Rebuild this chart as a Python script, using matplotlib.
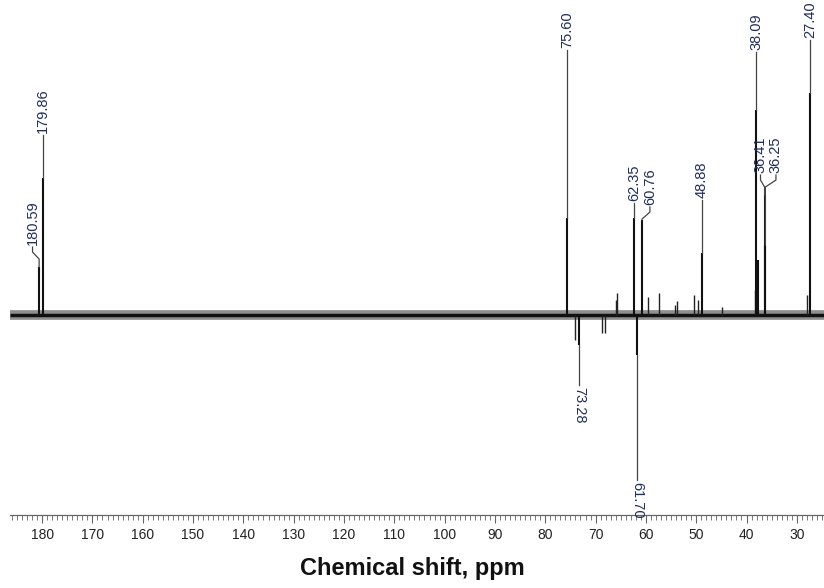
import numpy as np
import matplotlib
matplotlib.use("Agg")
import matplotlib.pyplot as plt
from matplotlib.ticker import MultipleLocator

plt.rcParams['font.family'] = ['Liberation Sans', 'DejaVu Sans']

# peak list: chemical shift (ppm) and intensity (arbitrary units, baseline = 0)
peak_ppm = [180.59, 179.86, 75.60, 73.28, 62.35, 61.70, 60.76, 48.88,
            38.09, 37.75, 36.41, 36.25, 27.40]
peak_int = [48, 137, 97, -30, 97, -40, 95, 62,
            205, 55, 120, 70, 222]

# small unlabelled signals
minor_ppm = [74.10, 68.70, 68.10, 66.00, 65.75, 59.60, 57.30, 54.20, 53.80,
             50.45, 49.60, 44.90, 38.40, 28.00]
minor_int = [-25, -18, -18, 15, 22, 18, 22, 10, 14,
             20, 15, 8, 25, 20]

# peak labels: text, peak ppm, text ppm, text edge, peak tip
label_text = ['180.59', '179.86', '75.60', '62.35', '60.76', '48.88',
              '38.09', '36.41', '36.25', '27.40', '73.28', '61.70']
label_peak = [180.59, 179.86, 75.60, 62.35, 60.76, 48.88,
              38.09, 36.41, 36.25, 27.40, 73.28, 61.70]
label_x = [181.9, 179.86, 75.60, 62.35, 59.20, 48.88,
           38.09, 37.22, 34.15, 27.40, 73.28, 61.70]
label_y = [68, 180, 265, 112, 108, 115, 263, 140, 140, 275, -70, -165]
label_tip = [48, 137, 97, 97, 95, 62, 205, 120, 70, 222, -30, -40]

xticks = list(range(180, 20, -10))

fig = plt.figure(figsize=(8.24, 5.88), dpi=100)
ax = fig.add_axes([0.012, 0.124, 0.988, 0.876])

# baseline noise band
ax.plot([186.4, 24.6], [0, 0], color='#333333', lw=7, alpha=0.55, solid_capstyle='butt')
ax.plot([186.4, 24.6], [0, 0], color='#111111', lw=2.5, solid_capstyle='butt')

ax.vlines(minor_ppm, 0, minor_int, color='#222222', lw=1.0)
ax.vlines(peak_ppm, 0, peak_int, color='#111111', lw=1.5)

label_color = '#1f2d5c'
for txt, pk, lx, ly, tip in zip(label_text, label_peak, label_x, label_y, label_tip):
    neg = ly < 0
    s = -1 if neg else 1
    if abs(lx - pk) > 0.05:
        bend1 = ly - s * 5
        bend2 = ly - s * 12
        xs = [lx, lx, pk, pk]
        ys = [ly, bend1, bend2, tip]
    else:
        xs = [pk, pk]
        ys = [ly, tip]
    ax.plot(xs, ys, color='#444444', lw=0.9)
    ax.text(lx, ly + s * 2, txt, rotation=270 if neg else 90,
            ha='center', va='top' if neg else 'bottom',
            fontsize=10.5, color=label_color)

ax.set_xlim(186.4, 24.6)
ax.set_ylim(-200, 315)
ax.set_xticks(xticks)
ax.xaxis.set_minor_locator(MultipleLocator(1))
ax.tick_params(axis='x', which='major', length=6, width=0.8, color='#666666',
               labelsize=10, labelcolor='#222222', pad=3)
ax.tick_params(axis='x', which='minor', length=3.5, width=0.7, color='#777777')
ax.set_yticks([])
for side in ['left', 'right', 'top']:
    ax.spines[side].set_visible(False)
ax.spines['bottom'].set_color('#666666')
ax.spines['bottom'].set_linewidth(0.9)

fig.text(0.5, 1 - 568 / 588, 'Chemical shift, ppm', ha='center', va='center',
         fontsize=17, fontweight='bold', color='#111111')

fig.savefig('out.png', dpi=100)
